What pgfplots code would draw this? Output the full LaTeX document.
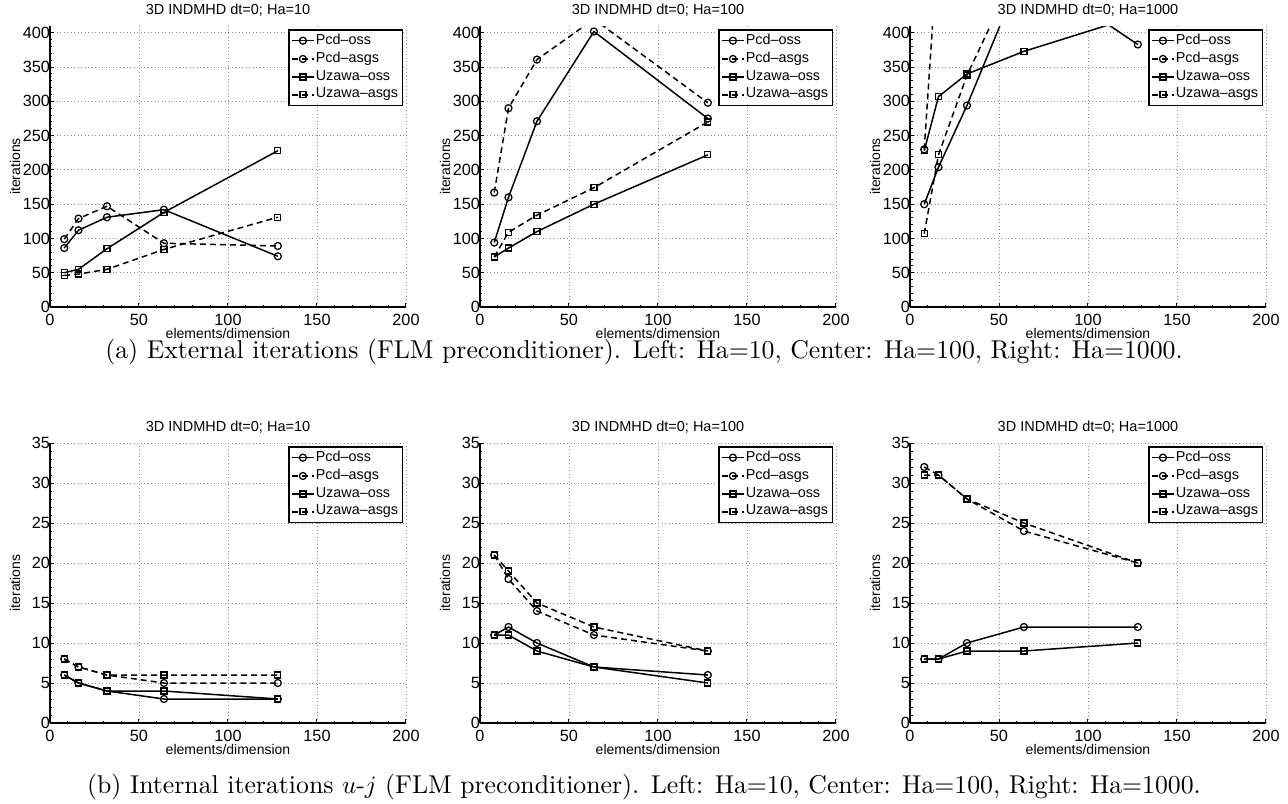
\documentclass[border=0pt]{standalone}
\usepackage{fontspec}
\usepackage{pgfplots}
\pgfplotsset{compat=1.18}
\newfontfamily\hv{Liberation Sans}
\pgfplotsset{
  every axis title shift=0pt,
  panel/.style={
    scale only axis, width=142.4pt,
    xmin=0, xmax=200, xtick={0,50,100,150,200}, minor x tick num=4,
    enlargelimits=false,
    axis lines=left, axis line style={-, line width=0.5pt},
    tick align=inside, major tick length=1.6pt, minor tick length=1pt,
    tick style={line width=0.4pt, black},
    grid=major, major grid style={densely dotted, black!45, line width=0.35pt},
    tick label style={font=\hv\fontsize{6.5}{7}\selectfont},
    yticklabel style={xshift=1.0pt, inner xsep=0.8pt, inner ysep=0pt},
    xticklabel style={inner ysep=0.5pt, inner xsep=0.5pt, yshift=-2.2pt},
    /pgf/number format/assume math mode=true,
    title style={font=\hv\fontsize{5.8}{6}\selectfont, at={(0.5,1)}, anchor=base, yshift=4.5pt, inner sep=0pt},
    xlabel={elements/dimension}, ylabel={iterations},
    label style={font=\hv\fontsize{5.6}{6}\selectfont, inner sep=0pt},
    xlabel style={at={(axis description cs:0.5,0)}, anchor=base, yshift=-12.6pt},
    ylabel style={at={(axis description cs:-0.098,0.5)}, anchor=center},
    clip marker paths=true,
    legend style={font=\hv\fontsize{5.75}{6.3}\selectfont, at={(0.992,0.989)}, anchor=north east,
      draw=black, line width=0.6pt, inner xsep=1.1pt, inner ysep=0.9pt, row sep=0.45pt, nodes={inner sep=0.6pt}},
    legend cell align=left,
    legend image code/.code={\draw[mark repeat=2,mark phase=2] plot coordinates {(0cm,0cm)(0.15cm,0cm)(0.3cm,0cm)};},
    every axis plot/.append style={line width=0.6pt, black},
  },
  toprow/.style={height=112.4pt, ymin=0, ymax=410, ytick={0,50,...,400}, minor y tick num=4},
  botrow/.style={height=112pt, ymin=0, ymax=35, ytick={0,5,...,35}, minor y tick num=4},
  oc/.style={solid, mark=o, mark size=1.4pt, mark options={solid, line width=0.5pt}},
  ac/.style={dash pattern=on 2.4pt off 1.6pt, mark=o, mark size=1.4pt, mark options={solid, line width=0.5pt}},
  os/.style={solid, mark=square, mark size=1.2pt, mark options={solid, line width=0.5pt}},
  as/.style={dash pattern=on 2.4pt off 1.6pt, mark=square, mark size=1.2pt, mark options={solid, line width=0.5pt}},
}
\begin{document}
\begin{tikzpicture}
\path[use as bounding box] (0,0) rectangle (515.2pt,-321.6pt);
% ---------- top row ----------
\begin{axis}[panel, toprow, at={(20pt,-122.8pt)}, anchor=south west, title={3D INDMHD dt=0; Ha=10}]
\addplot[oc] coordinates {(8,86) (16,112) (32,131) (64,142) (128,74)};
\addplot[ac] coordinates {(8,99) (16,129) (32,147) (64,93) (128,89)};
\addplot[os] coordinates {(8,50) (16,55) (32,85) (64,138) (128,228)};
\addplot[as] coordinates {(8,46) (16,48) (32,55) (64,84) (128,131)};
\legend{Pcd–oss, Pcd–asgs, Uzawa–oss, Uzawa–asgs}
\end{axis}
\begin{axis}[panel, toprow, at={(192pt,-122.8pt)}, anchor=south west, title={3D INDMHD dt=0; Ha=100}]
\addplot[oc] coordinates {(8,94) (16,160) (32,271) (64,402) (128,275)};
\addplot[ac] coordinates {(8,167) (16,290) (32,361) (64,420) (128,298)};
\addplot[os] coordinates {(8,73) (16,86) (32,110) (64,150) (128,222)};
\addplot[as] coordinates {(8,73) (16,109) (32,134) (64,174) (128,270)};
\legend{Pcd–oss, Pcd–asgs, Uzawa–oss, Uzawa–asgs}
\end{axis}
\begin{axis}[panel, toprow, at={(364pt,-122.8pt)}, anchor=south west, title={3D INDMHD dt=0; Ha=1000}]
\addplot[oc] coordinates {(8,150) (16,204) (32,294) (64,495) (128,383)};
\addplot[ac] coordinates {(8,230) (16,540) (32,700) (64,800) (128,700)};
\addplot[os] coordinates {(8,228) (16,307) (32,340) (64,373) (128,425)};
\addplot[as] coordinates {(8,107) (16,222) (32,338) (64,514) (128,600)};
\legend{Pcd–oss, Pcd–asgs, Uzawa–oss, Uzawa–asgs}
\end{axis}
% ---------- bottom row ----------
\begin{axis}[panel, botrow, at={(20pt,-289.2pt)}, anchor=south west, title={3D INDMHD dt=0; Ha=10}]
\addplot[oc] coordinates {(8,6) (16,5) (32,4) (64,3) (128,3)};
\addplot[ac] coordinates {(8,8) (16,7) (32,6) (64,5) (128,5)};
\addplot[os] coordinates {(8,6) (16,5) (32,4) (64,4) (128,3)};
\addplot[as] coordinates {(8,8) (16,7) (32,6) (64,6) (128,6)};
\legend{Pcd–oss, Pcd–asgs, Uzawa–oss, Uzawa–asgs}
\end{axis}
\begin{axis}[panel, botrow, at={(192pt,-289.2pt)}, anchor=south west, title={3D INDMHD dt=0; Ha=100}]
\addplot[oc] coordinates {(8,11) (16,12) (32,10) (64,7) (128,6)};
\addplot[ac] coordinates {(8,21) (16,18) (32,14) (64,11) (128,9)};
\addplot[os] coordinates {(8,11) (16,11) (32,9) (64,7) (128,5)};
\addplot[as] coordinates {(8,21) (16,19) (32,15) (64,12) (128,9)};
\legend{Pcd–oss, Pcd–asgs, Uzawa–oss, Uzawa–asgs}
\end{axis}
\begin{axis}[panel, botrow, at={(364pt,-289.2pt)}, anchor=south west, title={3D INDMHD dt=0; Ha=1000}]
\addplot[oc] coordinates {(8,8) (16,8) (32,10) (64,12) (128,12)};
\addplot[ac] coordinates {(8,32) (16,31) (32,28) (64,24) (128,20)};
\addplot[os] coordinates {(8,8) (16,8) (32,9) (64,9) (128,10)};
\addplot[as] coordinates {(8,31) (16,31) (32,28) (64,25) (128,20)};
\legend{Pcd–oss, Pcd–asgs, Uzawa–oss, Uzawa–asgs}
\end{axis}
% ---------- captions ----------
\node[font=\fontsize{10.3}{12}\selectfont, inner sep=0pt] at (257.6pt,-140.8pt)
  {(a) External iterations (FLM preconditioner). Left: Ha=10, Center: Ha=100, Right: Ha=1000.};
\node[font=\fontsize{10.3}{12}\selectfont, inner sep=0pt] at (257.6pt,-314.8pt)
  {(b) Internal iterations $u$-$j$ (FLM preconditioner). Left: Ha=10, Center: Ha=100, Right: Ha=1000.};
\end{tikzpicture}
\end{document}
